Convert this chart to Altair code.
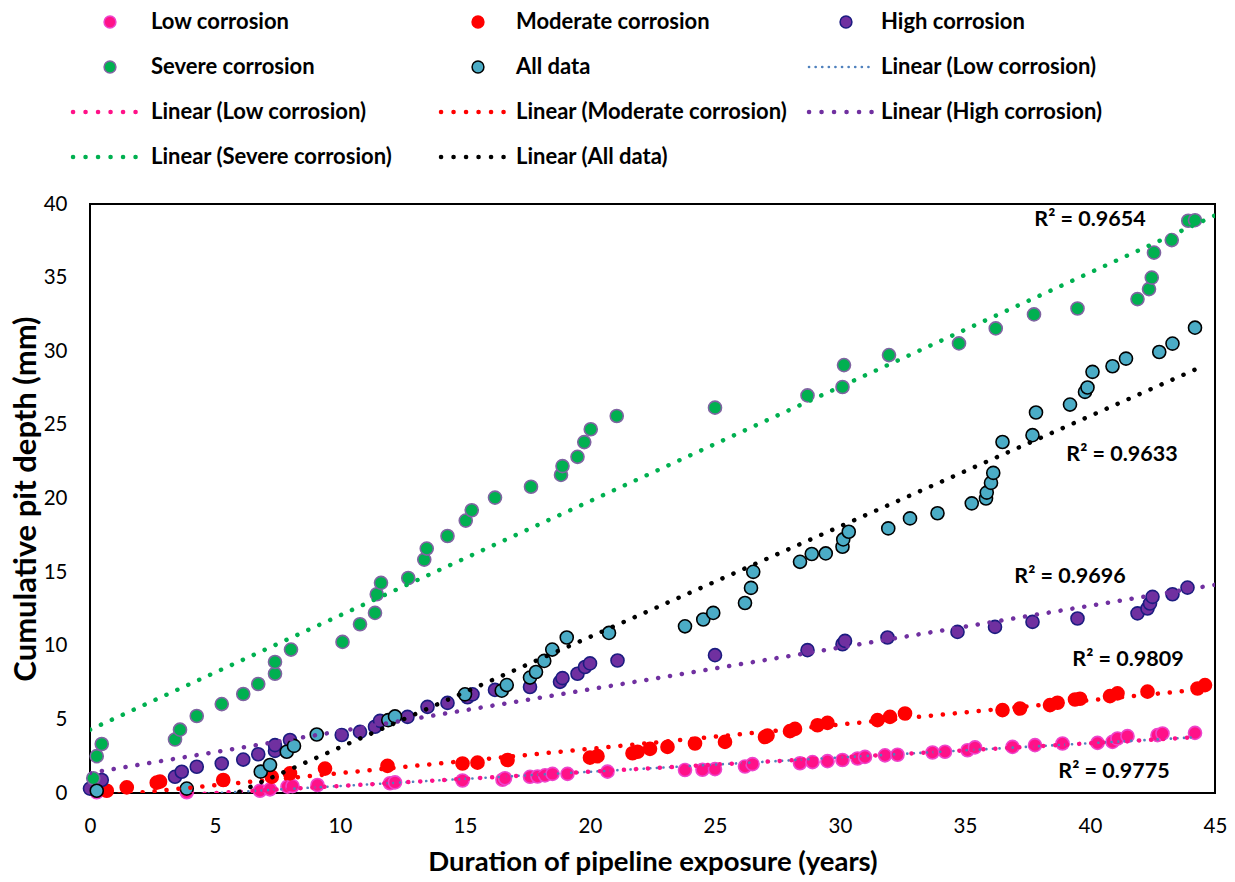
import altair as alt
import pandas as pd

# ---------------- data ----------------
series_names = ["Low corrosion", "Moderate corrosion", "High corrosion", "Severe corrosion", "All data"]

low_x = [0.27, 3.87, 6.8, 7.2, 7.9, 8.1, 9.1, 12.0, 12.2, 14.9, 16.5, 16.6, 17.6, 17.9, 18.2, 18.5, 19.1,
         20.7, 23.8, 24.5, 25.0, 26.2, 26.5, 28.4, 28.9, 29.5, 30.1, 30.7, 31.0, 31.8, 32.3, 33.7, 34.2,
         35.1, 35.4, 36.9, 37.8, 38.9, 40.3, 40.9, 41.1, 41.5, 42.7, 42.9, 44.2]
low_y = [0.05, 0.05, 0.15, 0.25, 0.43, 0.47, 0.54, 0.66, 0.72, 0.85, 0.9, 1.0, 1.1, 1.12, 1.2, 1.3, 1.3,
         1.45, 1.56, 1.58, 1.62, 1.8, 1.96, 2.02, 2.1, 2.16, 2.24, 2.34, 2.45, 2.56, 2.6, 2.75, 2.8,
         2.9, 3.1, 3.13, 3.25, 3.36, 3.4, 3.47, 3.7, 3.86, 3.93, 4.04, 4.08]

mod_x = [0.67, 1.47, 2.67, 2.8, 5.33, 7.27, 8.0, 9.4, 11.9, 14.9, 15.5, 16.7, 20.0, 20.3, 21.7, 21.9, 22.4,
         23.1, 24.2, 25.4, 27.0, 27.1, 28.0, 28.2, 29.1, 29.5, 31.5, 32.0, 32.6, 36.5, 37.2, 38.4, 38.7,
         39.4, 39.6, 40.8, 41.1, 42.3, 44.3, 44.6]
mod_y = [0.15, 0.38, 0.7, 0.77, 0.88, 1.1, 1.33, 1.66, 1.84, 2.0, 2.06, 2.24, 2.4, 2.5, 2.7, 2.8, 3.0,
         3.13, 3.36, 3.47, 3.8, 3.9, 4.2, 4.35, 4.6, 4.76, 4.95, 5.17, 5.4, 5.63, 5.74, 5.97, 6.13,
         6.35, 6.4, 6.58, 6.77, 6.88, 7.1, 7.33]

high_x = [0.0, 0.47, 3.4, 3.67, 4.27, 5.27, 6.13, 6.73, 7.4, 7.4, 8.0, 10.07, 10.8, 11.4, 11.6, 12.7, 13.5,
          14.3, 15.1, 15.3, 16.2, 17.6, 18.8, 18.9, 19.5, 19.8, 20.0, 21.1, 25.0, 28.7, 30.1, 30.2, 31.9,
          34.7, 36.2, 37.7, 39.5, 41.9, 42.3, 42.4, 42.5, 43.3, 43.9]
high_y = [0.3, 0.88, 1.1, 1.44, 1.78, 2.0, 2.27, 2.63, 2.86, 3.25, 3.6, 3.94, 4.15, 4.5, 4.9, 5.17, 5.85,
          6.12, 6.5, 6.7, 7.0, 7.2, 7.55, 7.8, 8.1, 8.56, 8.8, 9.0, 9.36, 9.7, 10.1, 10.33, 10.56,
          10.94, 11.28, 11.62, 11.85, 12.2, 12.53, 12.87, 13.32, 13.5, 13.95]

sev_x = [0.13, 0.27, 0.47, 3.4, 3.6, 4.27, 5.27, 6.13, 6.73, 7.4, 7.4, 8.04, 10.1, 10.8, 11.4, 11.47, 11.64,
         12.73, 13.37, 13.47, 14.3, 15.03, 15.27, 16.2, 17.64, 18.84, 18.9, 19.5, 19.77, 20.03, 21.07,
         25.0, 28.7, 30.1, 30.16, 31.96, 34.76, 36.23, 37.76, 39.5, 41.9, 42.36, 42.47, 42.56, 43.27,
         43.93, 44.2]
sev_y = [1.0, 2.5, 3.33, 3.63, 4.3, 5.23, 6.04, 6.72, 7.4, 8.1, 8.9, 9.74, 10.26, 11.46, 12.23, 13.5, 14.27,
         14.6, 15.85, 16.6, 17.45, 18.5, 19.2, 20.06, 20.8, 21.6, 22.2, 22.83, 23.83, 24.7, 25.6,
         26.17, 27.0, 27.57, 29.06, 29.74, 30.53, 31.55, 32.5, 32.9, 33.54, 34.22, 35.0, 36.7, 37.55,
         38.86, 38.9]

all_x = [0.27, 3.87, 6.83, 7.2, 7.87, 8.16, 9.07, 11.93, 12.2, 15.0, 16.47, 16.67, 17.6, 17.84, 18.17, 18.49,
         19.07, 20.76, 23.8, 24.53, 24.93, 26.2, 26.44, 26.53, 28.4, 28.87, 29.43, 30.1, 30.13, 30.35,
         31.93, 32.8, 33.9, 35.27, 35.84, 35.87, 36.04, 36.13, 36.5, 37.7, 37.84, 39.2, 39.8, 39.9,
         40.1, 40.9, 41.44, 42.77, 43.3, 44.2]
all_y = [0.15, 0.3, 1.45, 1.9, 2.8, 3.2, 3.97, 4.95, 5.2, 6.7, 6.95, 7.33, 7.84, 8.22, 8.97, 9.74,
         10.56, 10.87, 11.32, 11.78, 12.23, 12.9, 13.93, 15.02, 15.7, 16.23, 16.27, 16.72, 17.22, 17.74,
         17.97, 18.65, 19.0, 19.67, 20.0, 20.4, 21.06, 21.74, 23.84, 24.3, 25.84, 26.38, 27.24, 27.54,
         28.6, 28.98, 29.5, 29.95, 30.52, 31.6]

# linear trend lines (intercept, slope, x-range) per series
trend_intercept = [-0.49, -0.30, 1.36, 4.30, -4.40]
trend_slope = [0.0967, 0.165, 0.284, 0.776, 0.75]
trend_x_start = [0.27, 0.67, 0.0, 0.0, 0.27]
trend_x_end = [44.2, 44.6, 45.0, 45.0, 44.2]

r2_text = ["R² = 0.9775", "R² = 0.9809", "R² = 0.9696", "R² = 0.9654", "R² = 0.9633"]
r2_x = [40.96, 41.52, 39.2, 40.0, 41.28]
r2_y = [1.43, 9.03, 14.67, 38.91, 22.97]

x_ticks = [0, 5, 10, 15, 20, 25, 30, 35, 40, 45]
y_ticks = [0, 5, 10, 15, 20, 25, 30, 35, 40]

# ---------------- styles ----------------
FONT = "Lato"
point_fill = ["#FF1188", "#FF0000", "#7030A0", "#00B050", "#4BACC6"]
point_stroke = ["#EE44CC", "#FF0000", "#1C1C80", "#8064A2", "#000000"]
trend_color = ["#FF1188", "#FF0000", "#7030A0", "#00B050", "#000000"]
blue_trend = "#4F81BD"

W, H = 1125, 589
LEFT, TOP = 90, 204

xs = [low_x, mod_x, high_x, sev_x, all_x]
ys = [low_y, mod_y, high_y, sev_y, all_y]

X = alt.X("x:Q", scale=alt.Scale(domain=[0, 45], nice=False, zero=False),
          axis=alt.Axis(values=x_ticks, title="Duration of pipeline exposure (years)", grid=False,
                        domain=False, ticks=False, labelFont=FONT, labelFontSize=20.5, labelColor="black",
                        labelPadding=23, titleFont=FONT, titleFontSize=27.5, titleFontWeight="bold",
                        titleColor="black", titlePadding=12, labelFlush=False))
Y = alt.Y("y:Q", scale=alt.Scale(domain=[0, 40], nice=False, zero=False),
          axis=alt.Axis(values=y_ticks, title="Cumulative pit depth (mm)", grid=False,
                        domain=False, ticks=False, labelFont=FONT, labelFontSize=20.5, labelColor="black",
                        labelPadding=23, titleFont=FONT, titleFontSize=31, titleFontWeight="bold",
                        titleColor="black", titlePadding=1))

layers = []
# scatter points
for i in range(5):
    df = pd.DataFrame({"x": xs[i], "y": ys[i]})
    layers.append(alt.Chart(df).mark_point(filled=True, fill=point_fill[i], stroke=point_stroke[i],
                                           strokeWidth=1.6, size=170, opacity=1, shape="circle")
                  .encode(x=X, y=Y))

DOT = [0.1, 11.9]


def trend_df(i):
    xa, xb = trend_x_start[i], trend_x_end[i]
    return pd.DataFrame({"x": [xa, xb],
                         "y": [trend_intercept[i] + trend_slope[i] * xa,
                               trend_intercept[i] + trend_slope[i] * xb]})


# blue dotted trend for low corrosion (small dots)
layers.append(alt.Chart(trend_df(0)).mark_line(color=blue_trend, strokeWidth=2.6, strokeDash=[0.1, 6.5],
                                               strokeCap="round", clip=True).encode(x=X, y=Y))
for i in range(5):
    layers.append(alt.Chart(trend_df(i)).mark_line(color=trend_color[i], strokeWidth=4.5, strokeDash=DOT,
                                                   strokeCap="round", clip=True).encode(x=X, y=Y))

# R² labels
r2_df = pd.DataFrame({"x": r2_x, "y": r2_y, "t": r2_text})
layers.append(alt.Chart(r2_df).mark_text(font=FONT, fontSize=21.5, fontWeight="bold", color="black",
                                         align="center", baseline="middle")
              .encode(x=X, y=Y, text="t:N"))

# ---------------- legend (Excel-like, above the plot) ----------------
row_y = [22, 67, 112, 157]
col_marker_x = [110, 478, 846]
col_text_x = [151, 516, 881]
col_line_x = [(73, 136), (441, 504), (809, 872)]

legend_items = [
    ("pt", 0), ("pt", 1), ("pt", 2),
    ("pt", 3), ("pt", 4), ("blue", 0),
    ("ln", 0), ("ln", 1), ("ln", 2),
    ("ln", 3), ("ln", 4),
]
legend_labels = ["Low corrosion", "Moderate corrosion", "High corrosion",
                 "Severe corrosion", "All data", "Linear (Low corrosion)",
                 "Linear (Low corrosion)", "Linear (Moderate corrosion)", "Linear (High corrosion)",
                 "Linear (Severe corrosion)", "Linear (All data)"]

dummy = pd.DataFrame({"a": [0]})
for k, (kind, si) in enumerate(legend_items):
    r, c = divmod(k, 3)
    yy = row_y[r] - TOP
    if kind == "pt":
        layers.append(alt.Chart(dummy).mark_point(filled=True, fill=point_fill[si], stroke=point_stroke[si],
                                                  strokeWidth=1.5, size=140, opacity=1, shape="circle")
                      .encode(x=alt.value(col_marker_x[c] - LEFT), y=alt.value(yy)))
    else:
        x0, x1 = col_line_x[c]
        if kind == "blue":
            col, sw, dash = blue_trend, 2.6, [0.1, 6.5]
        else:
            col, sw, dash = trend_color[si], 4.5, [0.1, 12.4]
        layers.append(alt.Chart(dummy).mark_rule(color=col, strokeWidth=sw, strokeDash=dash, strokeCap="round")
                      .encode(x=alt.value(x0 - LEFT), x2=alt.value(x1 - LEFT), y=alt.value(yy)))
    layers.append(alt.Chart(dummy).mark_text(font=FONT, fontSize=22, fontWeight="bold", color="black",
                                             align="left", baseline="middle", text=legend_labels[k])
                  .encode(x=alt.value(col_text_x[c] - LEFT), y=alt.value(yy)))

chart = alt.layer(*layers).properties(
    width=W, height=H,
    autosize=alt.AutoSizeParams(type="none"),
    padding={"left": LEFT, "top": TOP, "right": 1235 - LEFT - W, "bottom": 882 - TOP - H},
    background="white",
).configure_view(stroke="black", strokeWidth=2)

chart.save("out.html", embed_options={"renderer": "svg", "actions": False})
